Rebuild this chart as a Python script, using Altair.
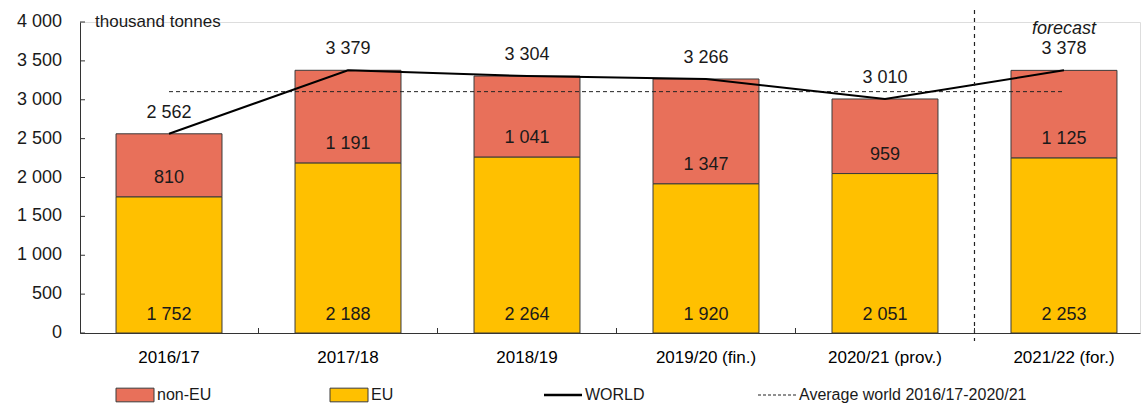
import altair as alt
import pandas as pd

# ---- data ----
years = ["2016/17", "2017/18", "2018/19", "2019/20 (fin.)", "2020/21 (prov.)", "2021/22 (for.)"]
eu = [1752, 2188, 2264, 1920, 2051, 2253]
non_eu = [810, 1191, 1041, 1347, 959, 1125]
world = [2562, 3379, 3304, 3266, 3010, 3378]
avg_world = sum(world[:5]) / 5
legend_items = ["non-EU", "EU", "WORLD", "Average world 2016/17-2020/21"]
y_ticks = [0, 500, 1000, 1500, 2000, 2500, 3000, 3500, 4000]

FONT = "Liberation Sans, Arial, sans-serif"
W, H = 1060, 311
C_NON = "#E8705A"
C_EU = "#FFC000"
EDGE = "#3a3a3a"
AX = "#333333"
P_IN, P_OUT, ALIGN = 0.408, 0.165, 0.61
STEP = W / (len(years) - P_IN + 2 * P_OUT)
HALF_GAP = STEP * P_IN / 2


def fmt(v):
    return f"{v:,}".replace(",", " ")


df = pd.DataFrame({"year": years, "eu": eu, "non_eu": non_eu, "world": world})
df["top"] = df["eu"] + df["non_eu"]
df["zero"] = 0
df["eu_lbl"] = [fmt(v) for v in eu]
df["non_lbl"] = [fmt(v) for v in non_eu]
df["world_lbl"] = [fmt(v) for v in world]
df["avg"] = avg_world

tick_df = pd.DataFrame({"v": y_ticks, "lbl": [fmt(v) for v in y_ticks]})
xtick_df = pd.DataFrame({"year": years[1:]})

x_scale = alt.Scale(domain=years, paddingInner=P_IN, paddingOuter=P_OUT, align=ALIGN)
y_scale = alt.Scale(domain=[0, 4000], nice=False)

x_axis = alt.Axis(labelAngle=0, ticks=False, labelPadding=16, labelFontWeight="normal",
                  labelFontSize=17, domainColor=AX)
y_axis = alt.Axis(labels=False, ticks=False, grid=False, domainColor=AX)


def XS(**kw):
    return alt.X("year:N", scale=x_scale, sort=years, title=None, axis=x_axis, **kw)


def YS(field):
    return alt.Y(field, scale=y_scale, title=None, axis=y_axis)


base = alt.Chart(df)

bars_eu = base.mark_bar(color=C_EU, stroke=EDGE, strokeWidth=1).encode(x=XS(), y=YS("eu:Q"))
bars_non = base.mark_bar(color=C_NON, stroke=EDGE, strokeWidth=1).encode(
    x=XS(), y=YS("eu:Q"), y2="top:Q")
world_line = base.mark_line(color="black", strokeWidth=2).encode(x=XS(), y=YS("world:Q"))
avg_line = base.mark_line(color="#222", strokeWidth=1, strokeDash=[4, 3]).encode(
    x=XS(), y=YS("avg:Q"))

vrule = alt.Chart(pd.DataFrame({"year": [years[-1]]})).mark_rule(
    color="#222", strokeWidth=1.2, strokeDash=[4, 4], xOffset=-HALF_GAP
).encode(x=XS(bandPosition=0), y=alt.value(-12), y2=alt.value(H + 8))

# inward ticks (as in the reference)
y_tick_marks = alt.Chart(tick_df).mark_rule(color=AX, strokeWidth=1).encode(
    y=YS("v:Q"), x=alt.value(0), x2=alt.value(5))
y_tick_lbls = alt.Chart(tick_df).mark_text(
    align="right", baseline="middle", font=FONT, fontSize=18, color="#1a1a1a"
).encode(y=YS("v:Q"), x=alt.value(-18), text="lbl:N")
x_tick_marks = alt.Chart(xtick_df).mark_rule(
    color=AX, strokeWidth=1, xOffset=-HALF_GAP
).encode(x=XS(bandPosition=0), y=alt.value(H - 5), y2=alt.value(H))

txt = dict(font=FONT, fontSize=18, color="#1a1a1a", baseline="middle")
t_world = base.mark_text(dy=-21, **txt).encode(x=XS(), y=YS("world:Q"), text="world_lbl:N")
t_non = base.mark_text(dy=-19, **txt).encode(x=XS(), y=YS("eu:Q"), text="non_lbl:N")
t_eu = base.mark_text(dy=-18, **txt).encode(x=XS(), y=YS("zero:Q"), text="eu_lbl:N")
t_fc = base.transform_filter(alt.datum.year == years[-1]).mark_text(
    dy=-41, fontStyle="italic", **txt).encode(x=XS(), y=YS("world:Q"), text=alt.value("forecast"))

t_unit = alt.Chart(pd.DataFrame({"u": ["thousand tonnes"]})).mark_text(
    align="left", baseline="middle", font=FONT, fontSize=17, color="#1a1a1a"
).encode(x=alt.value(15), y=alt.value(0), text="u:N")

main = alt.layer(bars_eu, bars_non, avg_line, world_line, vrule,
                 y_tick_marks, y_tick_lbls, x_tick_marks,
                 t_world, t_non, t_eu, t_fc, t_unit)

# ---- custom legend ----
leg_df = pd.DataFrame({"item": legend_items})
LX = alt.X("item:N", sort=legend_items,
           scale=alt.Scale(type="point", domain=legend_items, range=[55, 697], padding=0),
           axis=None)
LY = alt.value(H + 62)
RECT = "M-1,-0.36L1,-0.36L1,0.36L-1,0.36Z"
LINE = "M-1,0L1,0"
leg = alt.Chart(leg_df)
sw = leg.transform_filter(alt.FieldOneOfPredicate(field="item", oneOf=["non-EU", "EU"])).mark_point(
    shape=RECT, size=1444, filled=True, opacity=1, stroke=EDGE, strokeWidth=1
).encode(x=LX, y=LY, fill=alt.Fill("item:N", scale=alt.Scale(domain=["non-EU", "EU"],
                                                            range=[C_NON, C_EU]), legend=None))
lw = leg.transform_filter(alt.datum.item == "WORLD").mark_point(
    shape=LINE, size=1444, filled=False, opacity=1, color="black", strokeWidth=2.5
).encode(x=LX, y=LY)
la = leg.transform_filter(alt.datum.item == legend_items[3]).mark_point(
    shape=LINE, size=1444, filled=False, opacity=1, color="#222", strokeWidth=1.2, strokeDash=[3, 2]
).encode(x=LX, y=LY)
lt = leg.mark_text(align="left", baseline="middle", dx=22, font=FONT, fontSize=16,
                   color="#1a1a1a").encode(x=LX, y=LY, text="item:N")
legend = alt.layer(sw, lw, la, lt)

chart = alt.layer(main, legend).resolve_scale(x="independent", fill="independent").properties(
    width=W, height=H,
    padding={"left": 80, "top": 22, "right": 6, "bottom": 77},
    autosize=alt.AutoSizeParams(type="none"),
).configure_view(stroke=None).configure_axis(
    labelFont=FONT, labelColor="#1a1a1a", grid=False
).configure(background="white")

chart.save("out.html", embed_options={"renderer": "svg", "actions": False})
